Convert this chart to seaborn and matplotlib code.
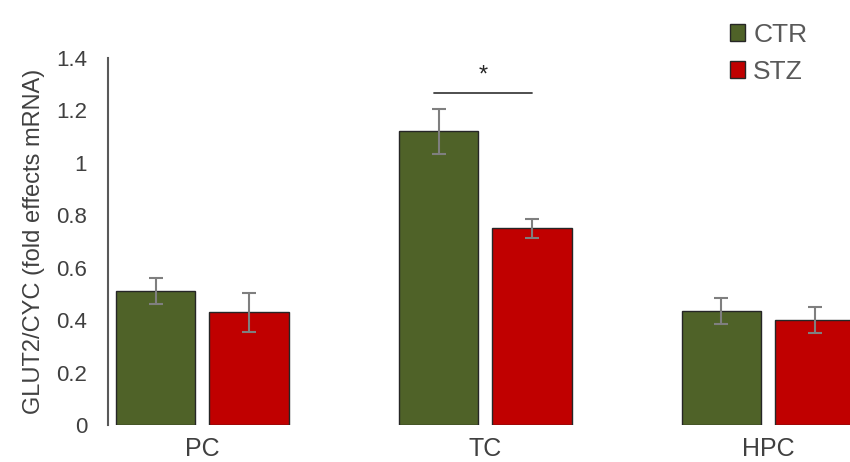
import matplotlib
matplotlib.use("Agg")
import matplotlib.pyplot as plt
from matplotlib.ticker import FuncFormatter
import seaborn as sns
import pandas as pd
import numpy as np

regions = ["PC", "TC", "HPC"]
groups = ["CTR", "STZ"]
ctr_mean = [0.51, 1.12, 0.435]
stz_mean = [0.43, 0.75, 0.40]
ctr_err = [0.05, 0.087, 0.05]
stz_err = [0.075, 0.035, 0.05]
yticks = [0, 0.2, 0.4, 0.6, 0.8, 1.0, 1.2, 1.4]
colors = {"CTR": "#4f6228", "STZ": "#c00000"}

df = pd.DataFrame({
    "region": regions * 2,
    "group": ["CTR"] * 3 + ["STZ"] * 3,
    "value": ctr_mean + stz_mean,
    "err": ctr_err + stz_err,
})

sns.set_theme(style="white")
plt.rcParams["font.family"] = ["Liberation Sans", "DejaVu Sans"]

fig = plt.figure(figsize=(8.5, 4.62), dpi=100)
ax = fig.add_axes([108 / 850, 37 / 462, 1 - 108 / 850, 367 / 462])

sns.barplot(data=df, x="region", y="value", hue="group", order=regions,
            hue_order=groups, palette=colors, width=0.66, gap=0.15,
            saturation=1, errorbar=None, edgecolor="#262626", linewidth=1.0, ax=ax)

# error bars at bar centres
for cont, g in zip(ax.containers, groups):
    sub = df[df.group == g].set_index("region").loc[regions]
    xs = [p.get_x() + p.get_width() / 2 for p in cont.patches]
    ax.errorbar(xs, sub["value"].values, yerr=sub["err"].values, fmt="none",
                ecolor="#7f7f7f", elinewidth=1.5, capsize=5, capthick=1.5,
                zorder=5)

# significance marker
ax.plot([0.82, 1.166], [1.268, 1.268], color="#404040", lw=1.3, clip_on=False)
ax.text(0.993, 1.335, "*", ha="center", va="center", fontsize=17, color="#262626")

ax.set_ylim(0, 1.4)
ax.set_xlim(-0.334, 2.29)
ax.set_yticks(yticks)
ax.yaxis.set_major_formatter(FuncFormatter(lambda v, p: f"{v:g}"))
ax.tick_params(axis="y", length=0, pad=15, labelsize=16, labelcolor="#404040")
ax.tick_params(axis="x", length=0, pad=9, labelsize=18, labelcolor="#404040")
ax.set_xlabel("")
ax.set_ylabel("GLUT2/CYC (fold effects mRNA)", fontsize=17, color="#404040", labelpad=8)

for s in ["top", "right", "bottom"]:
    ax.spines[s].set_visible(False)
ax.spines["left"].set_color("#595959")
ax.spines["left"].set_linewidth(1.5)

leg = ax.legend(loc="upper left", bbox_to_anchor=(719 / 850, 1 - 12 / 462), bbox_transform=fig.transFigure,
                frameon=False, fontsize=19, handlelength=0.6, handleheight=0.6,
                handletextpad=0.3, labelspacing=0.5, borderaxespad=0.0)
for t in leg.get_texts():
    t.set_color("#595959")

fig.savefig("out.png", dpi=100)
